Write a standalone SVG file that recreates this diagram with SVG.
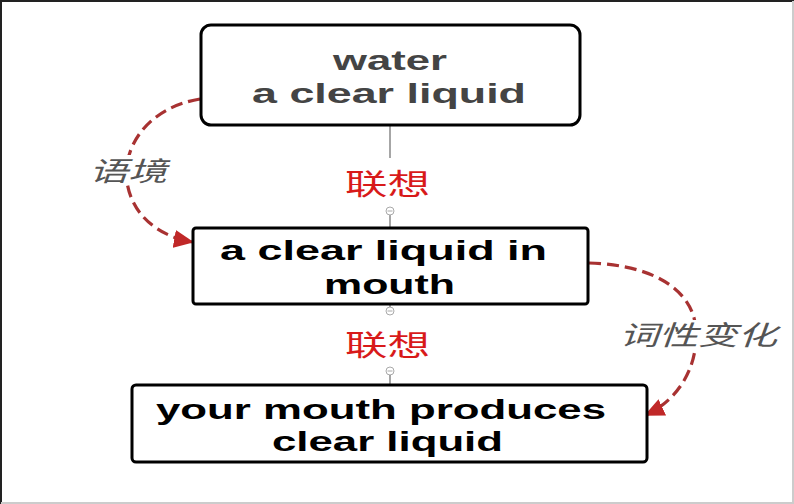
<svg xmlns="http://www.w3.org/2000/svg" width="794" height="504" viewBox="0 0 794 504">
<style>
.box{fill:#fff;stroke:#000;stroke-width:3}
.t{font-family:"Liberation Sans",Arial,sans-serif;font-weight:bold;font-size:28.5px}
.cn{font-family:"Noto Sans CJK SC",sans-serif;font-size:29px;fill:#d81a1a}
.lab{font-family:"Noto Sans CJK SC",sans-serif;font-size:27px;font-style:italic;fill:#555}
.vl{stroke:#888;stroke-width:1.5;fill:none}
.knob{fill:#fff;stroke:#aaa;stroke-width:1}
.dash{fill:none;stroke:#a83232;stroke-width:3.2;stroke-dasharray:12 6}
</style>
<defs>
<marker id="arr" markerUnits="userSpaceOnUse" markerWidth="22" markerHeight="18" refX="18" refY="9" orient="auto">
<path d="M0,0 L20,9 L0,18 Z" fill="#c02828"/>
</marker>
</defs>
<rect x="0" y="0" width="794" height="504" fill="#fff"/>
<path d="M1,504 L1,1 L794,1" fill="none" stroke="#222" stroke-width="2"/>
<path d="M793,1 L793,503 L1,503" fill="none" stroke="#ccc" stroke-width="2"/>

<g id="connectors">
<line class="vl" x1="390" y1="126" x2="390" y2="158"/>
<line class="vl" x1="390" y1="215" x2="390" y2="228"/>
<circle class="knob" cx="390" cy="211" r="4"/>
<line x1="387.5" y1="211" x2="392.5" y2="211" stroke="#aaa" stroke-width="1"/>
<line class="vl" x1="390" y1="304" x2="390" y2="307"/>
<circle class="knob" cx="390" cy="311" r="4"/>
<line x1="387.5" y1="311" x2="392.5" y2="311" stroke="#aaa" stroke-width="1"/>
<circle class="knob" cx="390" cy="371" r="4"/>
<line x1="387.5" y1="371" x2="392.5" y2="371" stroke="#aaa" stroke-width="1"/>
<line class="vl" x1="390" y1="375" x2="390" y2="385"/>
<text class="cn" x="345" y="195" textLength="85" lengthAdjust="spacingAndGlyphs">联想</text>
<text class="cn" x="345" y="356" textLength="85" lengthAdjust="spacingAndGlyphs">联想</text>

<path class="dash" d="M200,99 C145,108 122,150 127,182 C132,215 158,236 192,242" marker-end="url(#arr)"/>
<rect x="88" y="155" width="80" height="30" fill="#fff"/>
<text class="lab" x="89" y="181" textLength="78" lengthAdjust="spacingAndGlyphs">语境</text>

<path class="dash" d="M589,263 C658,265 694,293 696,330 C698,370 676,401 646,415" marker-end="url(#arr)"/>
<rect x="618" y="320" width="162" height="30" fill="#fff"/>
<text class="lab" x="619" y="345" textLength="158" lengthAdjust="spacingAndGlyphs">词性变化</text>
</g>

<g id="node-water">
<rect class="box" x="201" y="25" width="379" height="100" rx="10"/>
<text class="t" x="333" y="70" fill="#444" textLength="114" lengthAdjust="spacingAndGlyphs">water</text>
<text class="t" x="252" y="103" fill="#444" textLength="274" lengthAdjust="spacingAndGlyphs">a clear liquid</text>
</g>

<g id="node-mouth">
<rect class="box" x="193" y="228" width="395" height="76" rx="3"/>
<text class="t" x="220" y="260" fill="#000" textLength="327" lengthAdjust="spacingAndGlyphs">a clear liquid in</text>
<text class="t" x="324" y="294" fill="#000" textLength="131" lengthAdjust="spacingAndGlyphs">mouth</text>
</g>

<g id="node-produces">
<rect class="box" x="132" y="385" width="515" height="77" rx="4"/>
<text class="t" x="156" y="419" fill="#000" textLength="450" lengthAdjust="spacingAndGlyphs">your mouth produces</text>
<text class="t" x="272" y="451" fill="#000" textLength="231" lengthAdjust="spacingAndGlyphs">clear liquid</text>
</g>
</svg>
